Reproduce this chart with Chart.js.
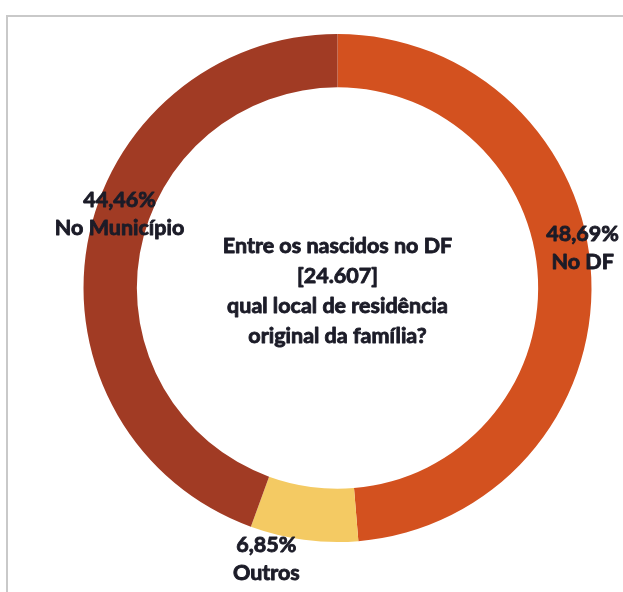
<!DOCTYPE html>
<html lang="pt-BR">
<head>
<meta charset="utf-8">
<title>Local de residência original da família</title>
<script src="https://cdn.jsdelivr.net/npm/chart.js@4.4.1/dist/chart.umd.min.js"></script>
<style>
  html, body { margin: 0; padding: 0; background: #ffffff; }
  #wrap { position: relative; width: 623px; height: 592px; }
</style>
</head>
<body>
<div id="wrap"><canvas id="chart"></canvas></div>
<script>
// Categories, shares (%) and their colours, clockwise from the top
const categories = ['No DF', 'Outros', 'No Município'];
const shares = [48.69, 6.85, 44.46];
const sliceColors = ['#D3511F', '#F4CA63', '#A13B24'];

// Text in the hole of the ring
const centerLines = [
  'Entre os nascidos no DF',
  '[24.607]',
  'qual local de residência',
  'original da família?'
];

const FONT = 'bold 21.5px Lato, "Open Sans", sans-serif';
const TEXT_COLOR = '#1c1c28';
const TEXT_STROKE = 0.9;

// Heavy text: fill plus a thin stroke of the same colour
function heavyText(ctx, text, x, y) {
  ctx.fillText(text, x, y);
  ctx.strokeText(text, x, y);
}

// Thin grey frame along the top and left edges
const framePlugin = {
  id: 'frame',
  beforeDraw(chart) {
    const ctx = chart.ctx;
    ctx.save();
    ctx.strokeStyle = '#c9c9c9';
    ctx.lineWidth = 2;
    ctx.beginPath();
    ctx.moveTo(7, chart.height + 2);
    ctx.lineTo(7, 16);
    ctx.lineTo(chart.width + 2, 16);
    ctx.stroke();
    ctx.restore();
  }
};

// Percentage + category label for each slice, anchored on the ring
const sliceLabelPlugin = {
  id: 'sliceLabels',
  afterDatasetsDraw(chart, args, opts) {
    const ctx = chart.ctx;
    const meta = chart.getDatasetMeta(0);
    const values = chart.data.datasets[0].data;
    ctx.save();
    ctx.font = FONT;
    ctx.fillStyle = TEXT_COLOR;
    ctx.strokeStyle = TEXT_COLOR;
    ctx.lineWidth = TEXT_STROKE;
    ctx.lineJoin = 'round';
    ctx.textAlign = 'center';
    ctx.textBaseline = 'middle';
    meta.data.forEach((arc, i) => {
      const p = arc.getProps(['x', 'y', 'startAngle', 'endAngle', 'innerRadius', 'outerRadius'], true);
      const mid = (p.startAngle + p.endAngle) / 2;
      const r = (p.innerRadius + p.outerRadius) / 2;
      const nudge = opts.nudges[i] || [0, 0];
      const cx = p.x + Math.cos(mid) * r + nudge[0];
      const cy = p.y + Math.sin(mid) * r + nudge[1];
      const pct = values[i].toFixed(2).replace('.', ',') + '%';
      heavyText(ctx, pct, cx, cy - opts.lineGap / 2);
      heavyText(ctx, chart.data.labels[i], cx, cy + opts.lineGap / 2);
    });
    ctx.restore();
  }
};

// Multi-line caption centred in the doughnut hole
const centerTextPlugin = {
  id: 'centerText',
  afterDatasetsDraw(chart, args, opts) {
    const ctx = chart.ctx;
    const arc = chart.getDatasetMeta(0).data[0];
    if (!arc) return;
    const n = opts.lines.length;
    ctx.save();
    ctx.font = FONT;
    ctx.fillStyle = TEXT_COLOR;
    ctx.strokeStyle = TEXT_COLOR;
    ctx.lineWidth = TEXT_STROKE;
    ctx.lineJoin = 'round';
    ctx.textAlign = 'center';
    ctx.textBaseline = 'middle';
    opts.lines.forEach((line, i) => {
      const y = arc.y + opts.shiftY + (i - (n - 1) / 2) * opts.lineGap;
      heavyText(ctx, line, arc.x, y);
    });
    ctx.restore();
  }
};

new Chart(document.getElementById('chart'), {
  type: 'doughnut',
  data: {
    labels: categories,
    datasets: [{
      data: shares,
      backgroundColor: sliceColors,
      borderWidth: 0,
      hoverOffset: 0
    }]
  },
  options: {
    responsive: true,
    maintainAspectRatio: false,
    animation: false,
    cutout: '79%',
    rotation: 0,
    layout: { padding: { left: 83, right: 31, top: 34, bottom: 50 } },
    events: [],
    plugins: {
      legend: { display: false },
      tooltip: { enabled: false },
      sliceLabels: {
        lineGap: 28,
        nudges: [[18, -31], [-41, 46], [6, -35]]
      },
      centerText: {
        lines: centerLines,
        lineGap: 30,
        shiftY: 3
      }
    }
  },
  plugins: [framePlugin, sliceLabelPlugin, centerTextPlugin]
});
</script>
</body>
</html>
